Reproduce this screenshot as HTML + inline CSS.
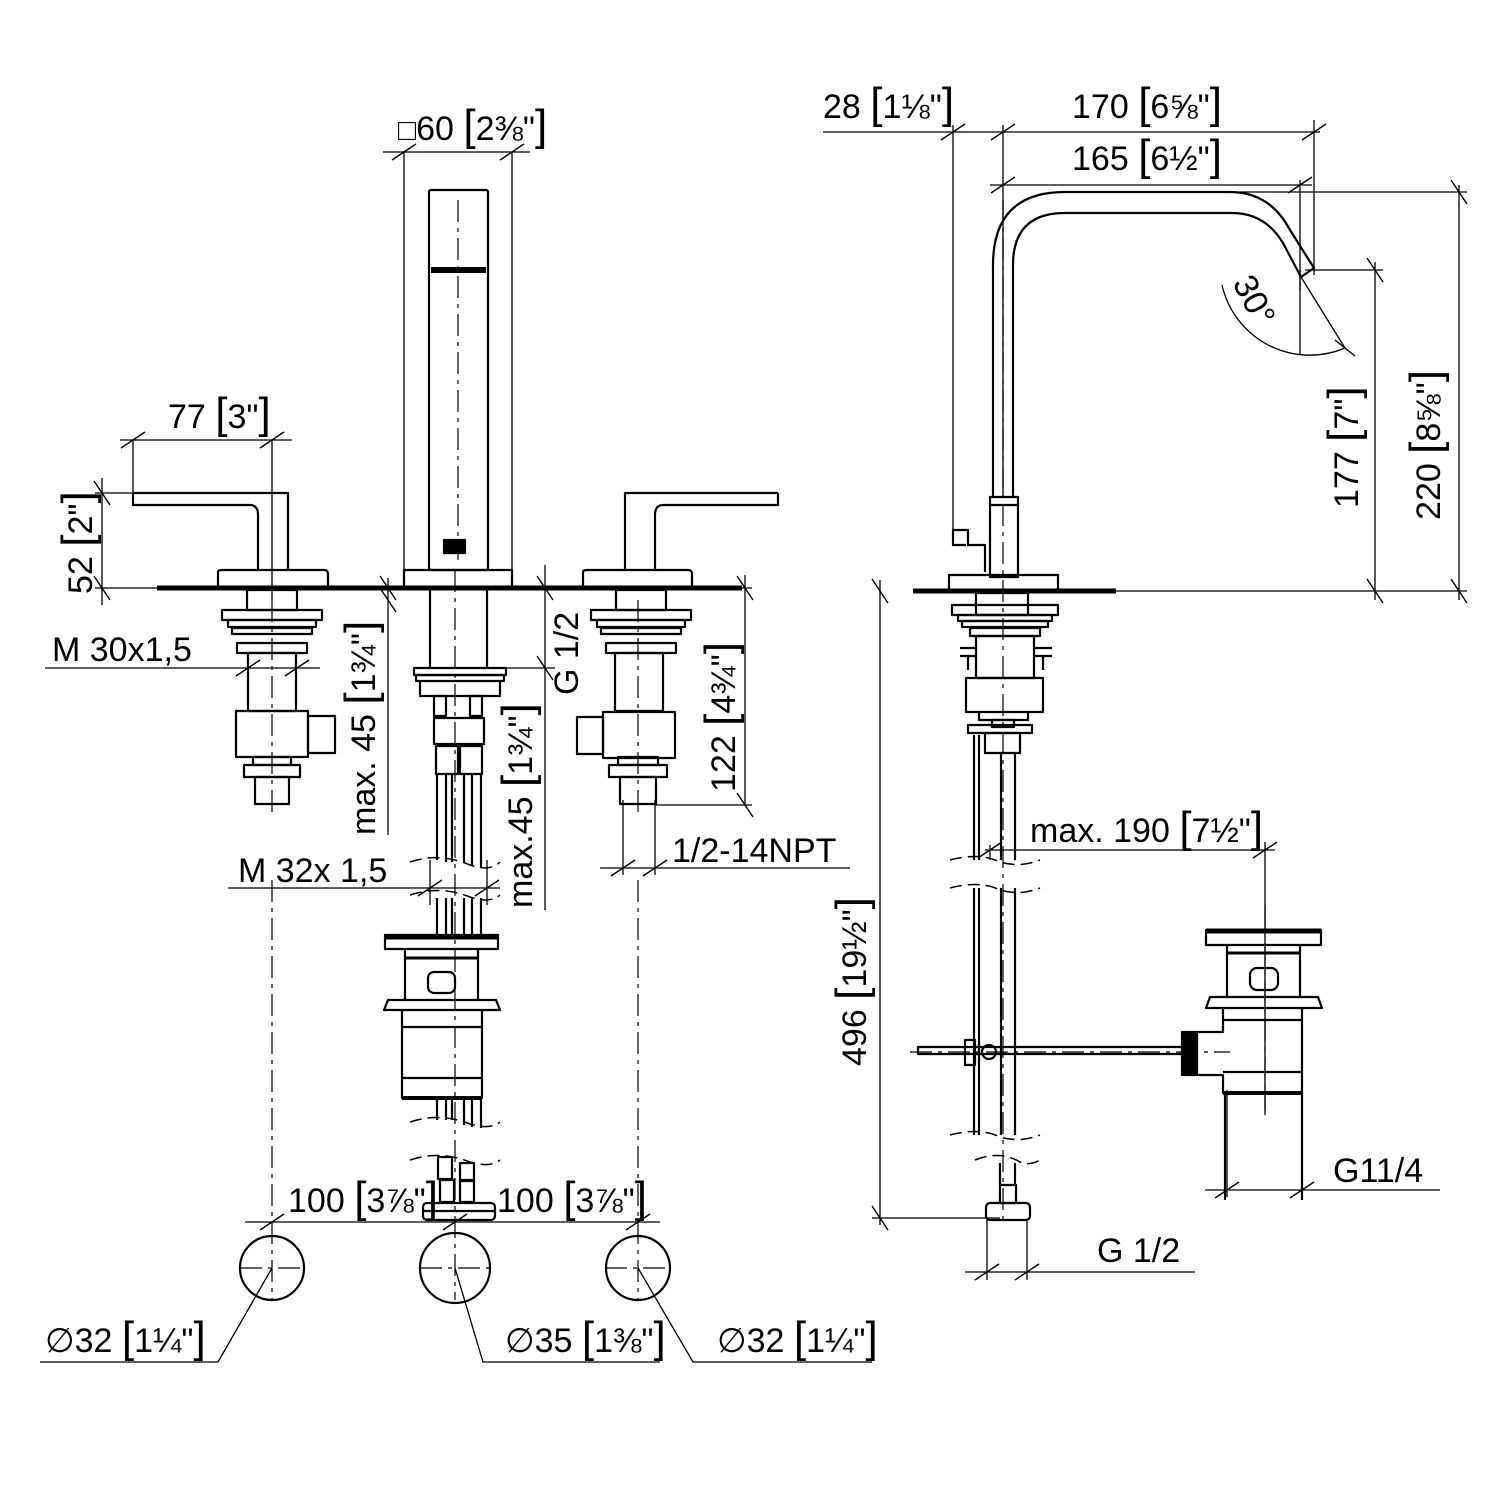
<!DOCTYPE html>
<html><head><meta charset="utf-8"><style>
html,body{margin:0;padding:0;background:#fff}
svg{display:block}
text{font-family:"Liberation Sans",sans-serif;font-size:34px;fill:#000}
.b{font-size:44px;font-weight:normal}
</style></head><body>
<svg width="1500" height="1500" viewBox="0 0 1500 1500" xmlns="http://www.w3.org/2000/svg">
<g fill="none" stroke="#000" stroke-width="2.2" stroke-linejoin="round">
<line x1="157" y1="588" x2="742" y2="588" stroke-width="5"/>
<rect x="429" y="190" width="59" height="380" rx="2"/>
<line x1="431" y1="270" x2="486" y2="270" stroke-width="6"/>
<rect x="444" y="540" width="21" height="13" fill="#000"/>
<path d="M404 586 V570 H512 V586"/>
<path d="M133 493 H288 V570 M133 493 V505 H250 Q258 505 258 515 V570"/>
<path d="M218 586 V572 Q218 570 222 570 H324 Q328 570 328 574 V586"/>
<path d="M778 493 H625 V570 M778 493 V505 H663 Q655 505 655 515 V570"/>
<path d="M583 586 V572 Q583 570 587 570 H688 Q692 570 692 574 V586"/>
<rect x="247" y="590" width="50" height="20"/>
<rect x="222" y="610" width="100" height="10"/>
<rect x="228" y="620" width="88" height="7"/>
<rect x="232" y="628" width="80" height="6"/>
<rect x="237" y="643" width="70" height="10"/>
<rect x="248" y="653" width="48" height="58"/>
<rect x="236" y="711" width="72" height="46"/>
<rect x="308" y="716" width="27" height="37"/>
<rect x="253" y="757" width="38" height="8"/>
<rect x="244" y="765" width="56" height="12"/>
<rect x="255" y="777" width="34" height="27"/>
<rect x="616" y="590" width="50" height="20"/>
<rect x="591" y="610" width="100" height="10"/>
<rect x="597" y="620" width="88" height="7"/>
<rect x="601" y="628" width="80" height="6"/>
<rect x="606" y="643" width="70" height="10"/>
<rect x="615" y="653" width="48" height="58"/>
<rect x="603" y="712" width="72" height="46"/>
<rect x="577" y="717" width="26" height="37"/>
<rect x="618" y="757" width="40" height="8"/>
<rect x="609" y="765" width="58" height="12"/>
<rect x="620" y="777" width="36" height="27"/>
<line x1="430" y1="590" x2="430" y2="668"/><line x1="487" y1="590" x2="487" y2="668"/>
<rect x="414" y="668" width="92" height="7"/>
<rect x="416" y="675" width="88" height="6"/>
<path d="M420 681 V696 H500 V681"/>
<rect x="434" y="696" width="12" height="20"/><rect x="470" y="696" width="12" height="20"/>
<rect x="434" y="718" width="50" height="26"/>
<rect x="436" y="746" width="22" height="28"/><rect x="460" y="746" width="22" height="28"/>
<path d="M437 774 V860 M446 774 V862 M452 774 V862 M464 774 V862 M472 774 V865 M481 774 V867"/>
<path d="M437 898 V935 M446 898 V935 M452 898 V935 M464 898 V935 M472 898 V935 M481 898 V935"/>
<rect x="385" y="935" width="113" height="14"/>
<line x1="385" y1="937" x2="498" y2="937" stroke-width="5"/>
<path d="M405 949 V1000 M478 949 V1000"/>
<line x1="405" y1="958" x2="478" y2="958" stroke-width="3"/>
<rect x="428" y="972" width="27" height="21" rx="6"/>
<path d="M388 1000 H496 L500 1010 H384 Z"/>
<path d="M402 1010 V1098 H482 V1010 M402 1027 H482 M402 1078 H482"/>
<line x1="402" y1="1098" x2="482" y2="1098" stroke-width="4"/>
<path d="M437 1098 V1120 M446 1098 V1120 M452 1098 V1120 M464 1098 V1125 M472 1098 V1127 M481 1098 V1128"/>
<rect x="438" y="1157" width="14" height="22"/><rect x="460" y="1163" width="14" height="18"/>
<rect x="440" y="1180" width="14" height="22"/><rect x="460" y="1180" width="14" height="22"/>
<rect x="423" y="1203" width="72" height="17" rx="4"/>
<line x1="423" y1="1211" x2="495" y2="1211"/>
<g stroke-width="1.5" stroke-dasharray="12 6">
<path d="M410 862 Q440 852 470 865 Q490 872 500 862"/>
<path d="M410 895 Q440 885 470 897 Q490 904 500 895"/>
<path d="M410 1122 Q440 1112 470 1124 Q490 1130 500 1122"/>
<path d="M410 1160 Q440 1150 470 1162 Q490 1168 500 1160"/>
</g>
<circle cx="272" cy="1268" r="32"/><circle cx="455" cy="1268" r="35"/><circle cx="638" cy="1268" r="32"/>

<line x1="913" y1="591" x2="1116" y2="591" stroke-width="5"/>
<path d="M993 497 V265 Q993 192 1065 192 H1230 Q1270 192 1290 230 L1314 268 L1301 277 L1283 243 Q1265 213 1232 213 H1065 Q1013 213 1013 265 V497"/>
<rect x="990" y="497" width="28" height="80"/>
<line x1="990" y1="505" x2="1018" y2="505"/>
<path d="M985 572 V545 H968 V530 H953 V545 H966"/>
<path d="M949 589 V575 H1058 V589"/>
<rect x="976" y="593" width="52" height="22"/>
<rect x="952" y="605" width="106" height="10"/>
<rect x="958" y="615" width="94" height="6"/>
<rect x="962" y="621" width="86" height="6"/>
<rect x="970" y="628" width="70" height="8"/>
<rect x="976" y="636" width="58" height="42"/>
<path d="M960 648 H975 M960 656 H975 M1035 648 H1052 M1035 656 H1052 M968 656 V670 M1043 656 V670"/>
<rect x="966" y="678" width="77" height="34"/>
<path d="M979 712 V720 H1028 V712"/>
<rect x="968" y="725" width="64" height="8"/>
<rect x="985" y="733" width="35" height="20"/>
<rect x="992" y="720" width="22" height="7"/>
<path d="M974 735 V860 M979 735 V860 M1001 753 V860 M1015 753 V860"/>
<path d="M974 888 V1135 M979 888 V1135 M1001 888 V1135 M1015 888 V1135"/>
<g stroke-width="1.5" stroke-dasharray="12 6">
<path d="M950 860 Q980 852 1000 862 Q1020 868 1040 860"/>
<path d="M950 888 Q980 880 1000 890 Q1020 896 1040 888"/>
<path d="M950 1135 Q980 1127 1000 1137 Q1020 1143 1040 1135"/>
<path d="M975 1160 Q1000 1150 1020 1162 Q1030 1166 1040 1160"/>
</g>
<path d="M1000 1163 V1185 M1015 1163 V1185"/>
<rect x="1000" y="1185" width="16" height="18"/>
<rect x="986" y="1203" width="44" height="17" rx="4"/>
<rect x="918" y="1047" width="265" height="7"/>
<circle cx="989" cy="1052" r="7"/>
<rect x="965" y="1040" width="10" height="25"/>
<rect x="1206" y="930" width="115" height="15"/>
<line x1="1206" y1="931" x2="1321" y2="931" stroke-width="5"/>
<path d="M1227 945 V997 M1300 945 V997"/>
<line x1="1227" y1="953" x2="1300" y2="953" stroke-width="3"/>
<rect x="1250" y="968" width="28" height="22" rx="7"/>
<path d="M1210 997 H1318 L1322 1008 H1206 Z"/>
<path d="M1223 1008 V1032 H1182 V1075 H1223 V1093 H1302 V1008 M1223 1020 H1302 M1223 1072 H1302"/>
<rect x="1184" y="1033" width="13" height="41" fill="#000"/>
<line x1="1223" y1="1093" x2="1302" y2="1093" stroke-width="4"/>
<path d="M1225 1093 V1200 M1302 1093 V1200"/>
</g>

<g fill="none" stroke="#000" stroke-width="1.3">
<path d="M383 152 H530 M404 152 V570 M512 152 V570"/>
<path d="M120 440 H292 M133 440 V493 M272 440 V600"/>
<path d="M102 478 V605 M95 493 H133 M95 588 H157"/>
<path d="M45 668 H320"/>
<path d="M388 578 V835"/>
<path d="M228 888 H500 M430 860 V905 M487 860 V905"/>
<path d="M545 565 V910 M505 668 H555"/>
<path d="M745 575 V805 M655 805 H752 M692 588 H752"/>
<path d="M600 868 H850 M623 800 V875 M655 800 V875"/>
<path d="M245 1222 H660"/>
<path d="M40 1362 H218 L272 1268 M660 1362 H483 L455 1268 M872 1362 H693 L638 1268"/>
<path d="M823 132 H1320 M953 125 V530 M1003 125 V497"/>
<path d="M990 185 H1312 M1314 120 V275 M1300 180 V290"/>
<path d="M1230 192 H1467 M1459 185 V600 M1305 270 H1383 M1375 262 V600 M1116 591 H1467"/>
<path d="M1301 277 L1345 348"/>
<path d="M1222 285 A90 90 0 0 0 1345 348"/>
<path d="M1300 270 V355"/>
<path d="M985 850 H1275 M990 845 V860 M1265 842 V1115"/>
<path d="M880 580 V1225 M872 1218 H1000"/>
<path d="M1205 1190 H1440 M1227 1090 V1197 M1302 1090 V1197"/>
<path d="M965 1272 H1195 M987 1220 V1280 M1027 1220 V1280"/>
</g>
<g fill="none" stroke="#000" stroke-width="1.2" stroke-dasharray="22 6 4 6">
<path d="M272 600 V815 M272 880 V1300 M638 600 V815 M638 880 V1300 M455 570 V1300 M458 200 V560"/>
<path d="M240 1268 H305 M420 1268 H490 M605 1268 H670"/>
<path d="M1003 200 V1220 M1265 905 V1110 M910 1052 H1230"/>
</g>
<g stroke="#000" stroke-width="1.4">
<path d="M392 160 L416 144 M500 160 L524 144"/>
<path d="M121 448 L145 432 M260 448 L284 432"/>
<path d="M94 481 L110 505 M94 576 L110 600"/>
<path d="M236 676 L260 660 M285 676 L309 660"/>
<path d="M380 576 L396 600 M380 588 L396 612"/>
<path d="M418 896 L442 880 M475 896 L499 880"/>
<path d="M537 576 L553 600 M537 656 L553 680"/>
<path d="M737 576 L753 600 M737 793 L753 817"/>
<path d="M611 876 L635 860 M643 876 L667 860"/>
<path d="M260 1230 L284 1214 M443 1230 L467 1214 M626 1230 L650 1214"/>
<path d="M941 140 L965 124 M991 140 L1015 124 M1302 140 L1326 124"/>
<path d="M991 193 L1015 177 M1288 193 L1312 177"/>
<path d="M1451 180 L1467 204 M1451 579 L1467 603 M1367 258 L1383 282 M1367 579 L1383 603"/>
<path d="M978 858 L1002 842 M1253 858 L1277 842"/>
<path d="M872 579 L888 603 M872 1206 L888 1230"/>
<path d="M1215 1198 L1239 1182 M1290 1198 L1314 1182"/>
<path d="M975 1280 L999 1264 M1015 1280 L1039 1264"/>
<path d="M1335 340 L1355 356"/>
</g>

<text x="398" y="140"><tspan font-size="30">□</tspan>60 <tspan class="b">[</tspan>2⅜"<tspan class="b">]</tspan></text>
<text x="168" y="428">77 <tspan class="b">[</tspan>3"<tspan class="b">]</tspan></text>
<text transform="translate(92,594) rotate(-90)">52 <tspan class="b">[</tspan>2"<tspan class="b">]</tspan></text>
<text x="52" y="661">M 30x1,5</text>
<text transform="translate(375,835) rotate(-90)">max. 45 <tspan class="b">[</tspan>1¾"<tspan class="b">]</tspan></text>
<text x="238" y="882">M 32x 1,5</text>
<text transform="translate(532,908) rotate(-90)">max.45 <tspan class="b">[</tspan>1¾"<tspan class="b">]</tspan></text>
<text transform="translate(578,695) rotate(-90)">G 1/2</text>
<text transform="translate(735,792) rotate(-90)">122 <tspan class="b">[</tspan>4¾"<tspan class="b">]</tspan></text>
<text x="672" y="862">1/2-14NPT</text>
<text x="288" y="1212">100 <tspan class="b">[</tspan>3⅞"<tspan class="b">]</tspan></text>
<text x="497" y="1212">100 <tspan class="b">[</tspan>3⅞"<tspan class="b">]</tspan></text>
<text x="45" y="1352">∅32 <tspan class="b">[</tspan>1¼"<tspan class="b">]</tspan></text>
<text x="505" y="1352">∅35 <tspan class="b">[</tspan>1⅜"<tspan class="b">]</tspan></text>
<text x="717" y="1352">∅32 <tspan class="b">[</tspan>1¼"<tspan class="b">]</tspan></text>
<text x="823" y="118">28 <tspan class="b">[</tspan>1⅛"<tspan class="b">]</tspan></text>
<text x="1072" y="118">170 <tspan class="b">[</tspan>6⅝"<tspan class="b">]</tspan></text>
<text x="1072" y="170">165 <tspan class="b">[</tspan>6½"<tspan class="b">]</tspan></text>
<text transform="translate(1232,283) rotate(62)">30°</text>
<text transform="translate(1358,508) rotate(-90)">177 <tspan class="b">[</tspan>7"<tspan class="b">]</tspan></text>
<text transform="translate(1440,520) rotate(-90)">220 <tspan class="b">[</tspan>8⅝"<tspan class="b">]</tspan></text>
<text x="1030" y="842">max. 190 <tspan class="b">[</tspan>7½"<tspan class="b">]</tspan></text>
<text transform="translate(866,1066) rotate(-90)">496 <tspan class="b">[</tspan>19½"<tspan class="b">]</tspan></text>
<text x="1333" y="1182">G11/4</text>
<text x="1097" y="1262">G 1/2</text>
</svg>
</body></html>
